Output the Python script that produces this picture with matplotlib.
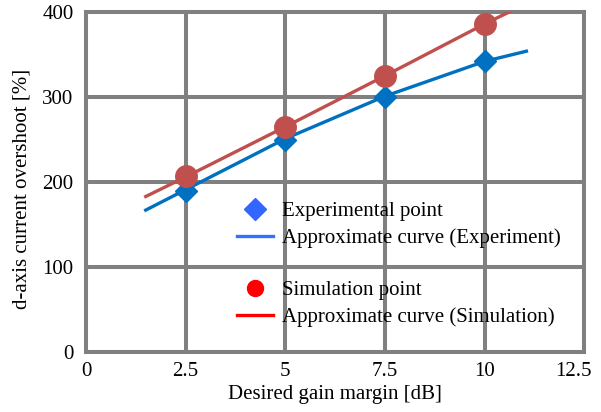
import matplotlib.pyplot as plt
import matplotlib.transforms as mtransforms
from matplotlib.lines import Line2D

plt.rcParams["font.family"] = ["Liberation Serif", "DejaVu Serif"]
plt.rcParams["font.size"] = 15

# measured points
gain_margin = [2.5, 5, 7.5, 10]
exp_overshoot = [190, 250, 300, 343]
sim_overshoot = [207, 265, 325, 386]

# approximate curves
exp_curve_x = [1.5, 2.5, 5, 7.5, 10, 11.05]
exp_curve_y = [167, 191, 251, 301, 342, 354]
sim_curve_x = [1.5, 2.5, 5, 7.5, 10, 10.7]
sim_curve_y = [183, 206, 265, 325, 386, 402]

blue = '#0070C0'
red = '#C0504D'
grid_gray = '#808080'

fig = plt.figure(figsize=(6.01, 4.12), dpi=100)
ax = fig.add_axes([0.143, 0.1456, 0.829, 0.825])

ax.plot(exp_curve_x, exp_curve_y, color=blue, linewidth=2.4, zorder=3)
ax.plot(sim_curve_x, sim_curve_y, color=red, linewidth=2.4, zorder=3)
ax.plot(gain_margin, exp_overshoot, linestyle='none', marker='D', markersize=11.5,
        color=blue, zorder=4)
ax.plot(gain_margin, sim_overshoot, linestyle='none', marker='o', markersize=15.5,
        color=red, zorder=4)

ax.set_xlim(0, 12.5)
ax.set_ylim(0, 400)
ax.set_xticks([0, 2.5, 5, 7.5, 10, 12.5])
ax.set_xticklabels(['0', '2.5', '5', '7.5', '10', '12.5'])
ax.set_yticks([0, 100, 200, 300, 400])
ax.tick_params(axis='x', length=0, pad=7)
ax.tick_params(axis='y', length=0, pad=9)
ax.grid(True, color=grid_gray, linewidth=2.9)
ax.set_axisbelow(True)
for s in ax.spines.values():
    s.set_color(grid_gray)
    s.set_linewidth(2.9)

# last x label is pulled in a bit so it stays inside the picture
last = ax.get_xticklabels()[-1]
last.set_transform(last.get_transform() +
                   mtransforms.ScaledTranslation(-0.11, 0, fig.dpi_scale_trans))

ax.set_xlabel('Desired gain margin [dB]', labelpad=3)
ax.set_ylabel('d-axis current overshoot [%]')
ax.yaxis.set_label_coords(-0.11, 0.48)

h1 = [Line2D([], [], linestyle='none', marker='D', markersize=11, color='#3366FF'),
      Line2D([], [], color='#3370FF', linewidth=2.4)]
l1 = ['Experimental point', 'Approximate curve (Experiment)']
h2 = [Line2D([], [], linestyle='none', marker='o', markersize=11.5, color='#FF0000'),
      Line2D([], [], color='#FF0000', linewidth=2.4)]
l2 = ['Simulation point', 'Approximate curve (Simulation)']

leg_kw = dict(frameon=False, handlelength=1.75, labelspacing=0.35,
              handletextpad=0.4, borderpad=0, borderaxespad=0)
leg1 = ax.legend(h1, l1, loc='center left', bbox_to_anchor=(0.303, 0.375), **leg_kw)
ax.add_artist(leg1)
ax.legend(h2, l2, loc='center left', bbox_to_anchor=(0.303, 0.1425), **leg_kw)

fig.savefig('out.png', dpi=100)
